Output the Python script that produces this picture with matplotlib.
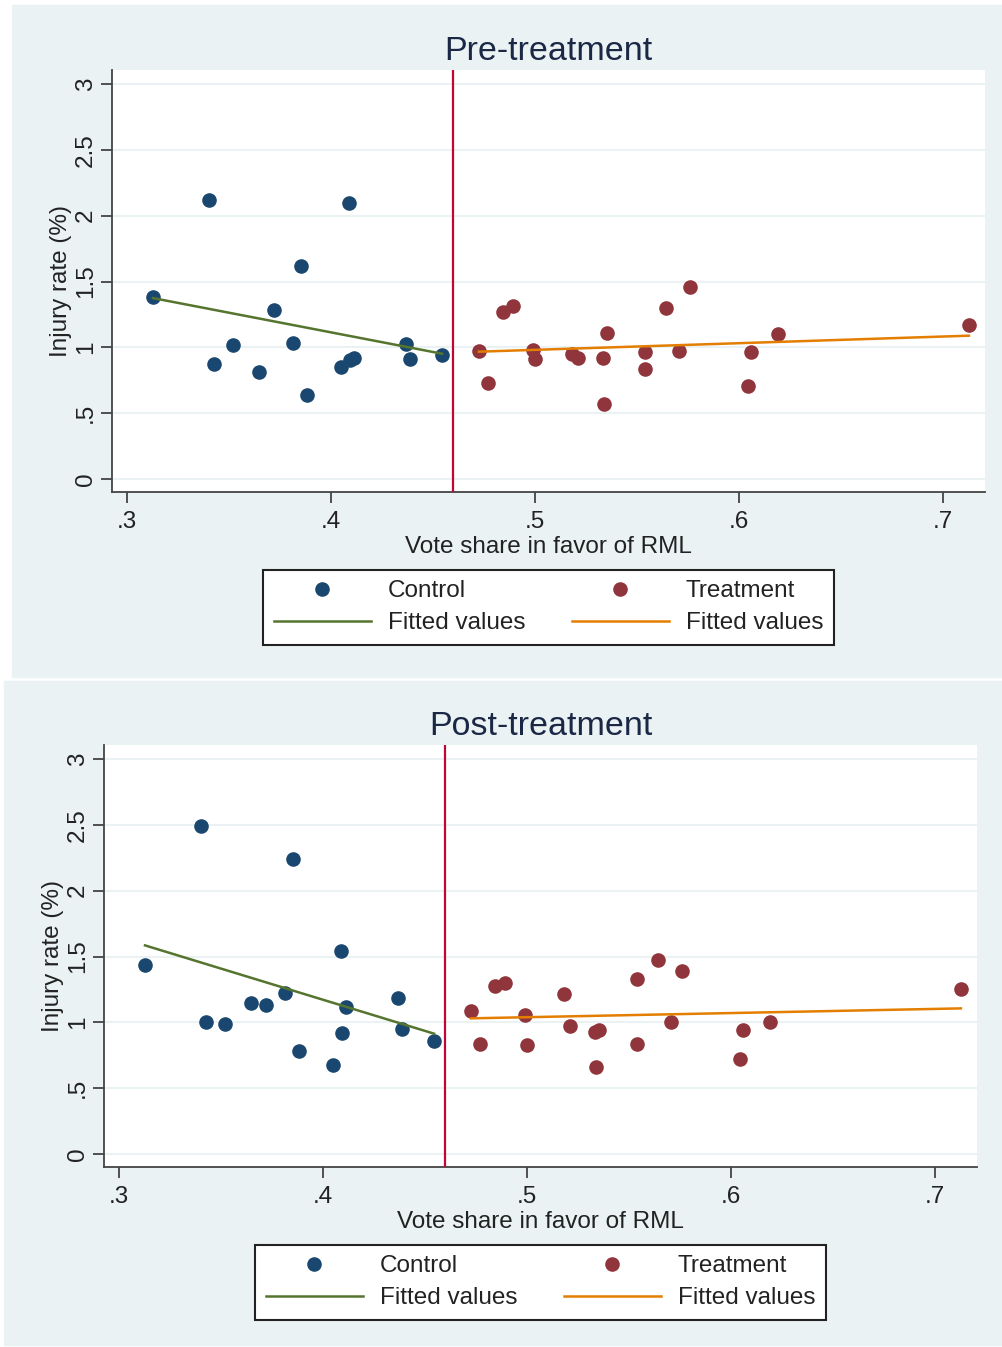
import numpy as np
import matplotlib
matplotlib.use("Agg")
import matplotlib.pyplot as plt
from matplotlib.patches import Rectangle

plt.rcParams['font.family'] = ['Liberation Sans', 'DejaVu Sans']

# vote share (same districts in both panels)
ctrl_x = [0.3127, 0.3402, 0.3426, 0.3520, 0.3647, 0.3720, 0.3814, 0.3853,
          0.3882, 0.4049, 0.4088, 0.4093, 0.4113, 0.4368, 0.4387, 0.4544]
treat_x = [0.4725, 0.4770, 0.4843, 0.4892, 0.4990, 0.5000, 0.5181, 0.5211,
           0.5333, 0.5338, 0.5353, 0.5539, 0.5539, 0.5642, 0.5706, 0.5760,
           0.6044, 0.6059, 0.6191, 0.7127]

# injury rate (%)
ctrl_pre = [1.382, 2.118, 0.873, 1.017, 0.812, 1.283, 1.033, 1.617,
            0.638, 0.850, 2.096, 0.904, 0.919, 1.025, 0.911, 0.942]
treat_pre = [0.972, 0.729, 1.268, 1.314, 0.980, 0.911, 0.949, 0.919,
             0.919, 0.569, 1.109, 0.964, 0.835, 1.298, 0.972, 1.458,
             0.706, 0.964, 1.101, 1.169]
ctrl_post = [1.439, 2.492, 1.000, 0.992, 1.144, 1.136, 1.220, 2.242,
             0.780, 0.674, 1.545, 0.917, 1.121, 1.182, 0.947, 0.856]
treat_post = [1.090, 0.840, 1.280, 1.300, 1.055, 0.830, 1.215, 0.975,
              0.930, 0.665, 0.945, 1.330, 0.835, 1.475, 1.005, 1.390,
              0.725, 0.945, 1.005, 1.255]

cutoff = 0.46
x_ticks = [0.3, 0.4, 0.5, 0.6, 0.7]
x_labels = ['.3', '.4', '.5', '.6', '.7']
y_ticks = [0, 0.5, 1, 1.5, 2, 2.5, 3]
y_labels = ['0', '.5', '1', '1.5', '2', '2.5', '3']

bg = '#eaf2f3'
navy = '#1a476f'
maroon = '#90353b'
green = '#55752f'
orange = '#e37e00'
red = '#c10534'

W, H = 1002, 1347
fig = plt.figure(figsize=(W / 100, H / 100), dpi=100)
fig.patch.set_facecolor('white')


def px_rect(x0, y0, x1, y1):
    # pixel box (top-left origin) -> figure fraction [left, bottom, width, height]
    return [x0 / W, 1 - y1 / H, (x1 - x0) / W, (y1 - y0) / H]


def panel(bg_box, ax_box, title, cy, ty, leg_top, leg_cx):
    r = px_rect(*bg_box)
    fig.patches.append(Rectangle((r[0], r[1]), r[2], r[3],
                                 transform=fig.transFigure, color=bg, zorder=-5))
    ax = fig.add_axes(px_rect(*ax_box))
    ax.set_facecolor('white')
    ax.set_xlim(0.2926, 0.7206)
    ax.set_ylim(-0.097, 3.106)

    for y in y_ticks:
        ax.axhline(y, color=bg, lw=1.5, zorder=0)

    cx = np.array(ctrl_x)
    tx = np.array(treat_x)
    cfit = np.polyfit(cx, cy, 1)
    tfit = np.polyfit(tx, ty, 1)

    h1, = ax.plot(cx, cy, 'o', color=navy, ms=10.5, mec='none', zorder=3)
    h2, = ax.plot([cx.min(), cx.max()], np.polyval(cfit, [cx.min(), cx.max()]),
                  color=green, lw=1.8, zorder=4)
    h3, = ax.plot(tx, ty, 'o', color=maroon, ms=10.5, mec='none', zorder=3)
    h4, = ax.plot([tx.min(), tx.max()], np.polyval(tfit, [tx.min(), tx.max()]),
                  color=orange, lw=1.8, zorder=4)
    ax.axvline(cutoff, color=red, lw=1.6, zorder=5)

    for s in ['top', 'right']:
        ax.spines[s].set_visible(False)
    for s in ['left', 'bottom']:
        ax.spines[s].set_color('#444444')
        ax.spines[s].set_linewidth(1.3)

    ax.set_xticks(x_ticks)
    ax.set_xticklabels(x_labels)
    ax.set_yticks(y_ticks)
    ax.set_yticklabels(y_labels)
    ax.tick_params(length=8, width=1.3, color='#444444', labelsize=17.5,
                   labelcolor='#222222')
    ax.tick_params(axis='x', pad=6)
    ax.tick_params(axis='y', pad=3, labelrotation=90)
    plt.setp(ax.get_yticklabels(), va='center')

    ax.set_xlabel('Vote share in favor of RML', fontsize=17.5, color='#222222', labelpad=2)
    ax.set_ylabel('Injury rate (%)', fontsize=17.5, color='#222222', labelpad=2)
    ax.set_title(title, fontsize=24.5, color='#1a2745', pad=7)

    leg = ax.legend([h1, h2, h3, h4],
                    ['Control', 'Fitted values', 'Treatment', 'Fitted values'],
                    ncol=2, loc='upper center',
                    bbox_to_anchor=(leg_cx / W, 1 - leg_top / H),
                    bbox_transform=fig.transFigure,
                    fontsize=17.5, frameon=True, fancybox=False,
                    edgecolor='#222222', framealpha=1, borderpad=0.42,
                    handlelength=4.0, handletextpad=0.7, columnspacing=1.9,
                    labelspacing=0.42, borderaxespad=0)
    leg.get_frame().set_linewidth(1.5)
    for t in leg.get_texts():
        t.set_color('#222222')
    return ax


panel((12, 5, 1002, 677), (112, 70, 985, 492), 'Pre-treatment',
      ctrl_pre, treat_pre, 570, 548.5)
panel((4, 681, 1002, 1345), (104, 745, 977, 1167), 'Post-treatment',
      ctrl_post, treat_post, 1245, 540.5)

fig.savefig('out.png', dpi=100, facecolor=fig.get_facecolor())
